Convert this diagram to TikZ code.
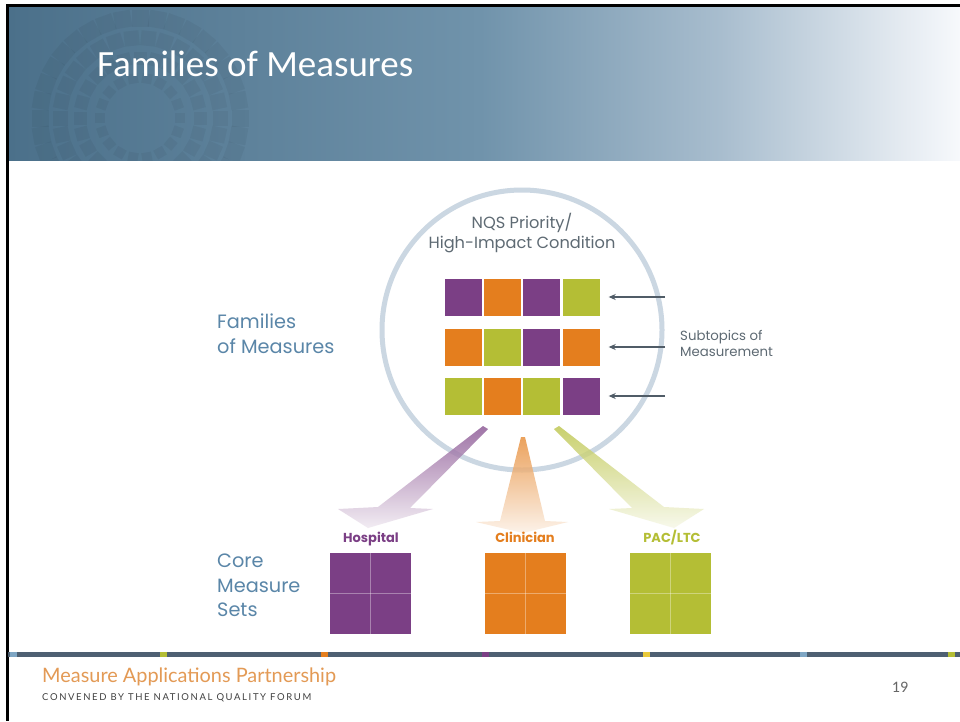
\documentclass[tikz,border=0pt]{standalone}
\usepackage{fontspec}
\setmainfont{Lato}
\newfontfamily\titlefont{Carlito}
\newfontfamily\gfont{Poppins}
\usetikzlibrary{arrows.meta}
\definecolor{mpurple}{HTML}{7B3F85}
\definecolor{morange}{HTML}{E47E1E}
\definecolor{mgreen}{HTML}{B4BE35}
\definecolor{steel}{HTML}{5A86A8}
\definecolor{txtgray}{HTML}{5E6A73}
\definecolor{ringc}{HTML}{CBD7E2}
\definecolor{arrowc}{HTML}{505C67}
\definecolor{footorange}{HTML}{E39A55}
\definecolor{barc}{HTML}{4E6072}
\definecolor{hA}{HTML}{4B708A}
\definecolor{hB}{HTML}{7093AB}
\definecolor{hC}{HTML}{A8BDCE}
\definecolor{hD}{HTML}{F7F9FC}
\definecolor{bitblue}{HTML}{7EA6C4}
\definecolor{bityellow}{HTML}{E8C93A}
\pgfdeclarehorizontalshading{hdr}{100bp}{color(0bp)=(hA); color(25bp)=(hA); color(49.8bp)=(hB); color(62.4bp)=(hC); color(75bp)=(hD); color(100bp)=(hD)}
\tikzset{
  cell/.style={minimum width=37pt, minimum height=37pt, inner sep=0pt, fill=#1},
  core/.style={minimum width=81pt, minimum height=81pt, inner sep=0pt, fill=#1},
  ptr/.style={arrowc, line width=1.1pt, -{Stealth[length=7pt,width=6pt]}},
  sidelbl/.style={steel, font=\gfont\fontsize{19.3}{24.5}\selectfont, align=left, anchor=north west, inner sep=0pt},
  setlbl/.style={font=\gfont\bfseries\fontsize{13}{15}\selectfont, inner sep=0pt, anchor=base},
  bigarrow/.style={shade, top color=#1!90, bottom color=#1!12, opacity=.8},
  divider/.style={white, opacity=.35, line width=.9pt}
}
\begin{document}
\begin{tikzpicture}[x=1pt, y=-1pt]
\useasboundingbox (0,0) rectangle (960,721);
\fill[white] (0,0) rectangle (960,721);
% header
\shade[shading=hdr] (8,6) rectangle (960,160);
\begin{scope}
  \clip (8,6) rectangle (330,160);
  \foreach \r/\s/\st in {40/10/20, 60/13/15, 80/15/12, 100/17/10}{
    \foreach \a in {0,\st,...,359}{
      \fill[black, opacity=.045, shift={(140,118)}, rotate=\a] (\r-\s/2,-\s/2) rectangle (\r+\s/2,\s/2);
    }
  }
\end{scope}
\node[white, anchor=base west, inner sep=0pt, font=\titlefont\fontsize{37}{40}\selectfont] (title) at (97,76) {Families of Measures};
% borders
\fill[black] (6,4) rectangle (960,7);
\fill[black] (6,4) rectangle (9,721);
% circle
\draw[ringc, line width=5pt] (522,330) circle (140);
\node[txtgray, align=center, inner sep=0pt, anchor=base, font=\gfont\fontsize{16.2}{20}\selectfont] (nqs) at (522,248) {NQS Priority/\\High-Impact Condition};
% grid of subtopics
\node[cell=mpurple] (r1c1) at (463,297) {};
\node[cell=morange] (r1c2) at (502,297) {};
\node[cell=mpurple] (r1c3) at (541,297) {};
\node[cell=mgreen]  (r1c4) at (581,297) {};
\node[cell=morange] (r2c1) at (463,347) {};
\node[cell=mgreen]  (r2c2) at (502,347) {};
\node[cell=mpurple] (r2c3) at (541,347) {};
\node[cell=morange] (r2c4) at (581,347) {};
\node[cell=mgreen]  (r3c1) at (463,396) {};
\node[cell=morange] (r3c2) at (502,396) {};
\node[cell=mgreen]  (r3c3) at (541,396) {};
\node[cell=mpurple] (r3c4) at (581,396) {};
% pointer arrows
\coordinate (s1) at (665,297);
\coordinate (s2) at (665,347);
\coordinate (s3) at (665,396);
\draw[ptr] (s1) -- ([xshift=9pt]r1c4.east);
\draw[ptr] (s2) -- ([xshift=9pt]r2c4.east);
\draw[ptr] (s3) -- ([xshift=9pt]r3c4.east);
\node[txtgray, align=left, anchor=north west, inner sep=0pt, font=\gfont\fontsize{13.3}{16}\selectfont] (sub) at (680,330) {Subtopics of\\Measurement};
% side labels
\node[sidelbl] (fam) at (217,314) {Families\\of Measures};
\node[sidelbl] (cms) at (217,554) {Core\\Measure\\Sets};
% big arrows
\path[bigarrow=mpurple] (483,426) -- (488,429) -- (410,508) -- (433,509) -- (368,528) -- (338,509) -- (378,507) -- cycle;
\path[bigarrow=morange] (521,437) -- (525,437) -- (545,521) -- (568,522) -- (523,533) -- (476,522) -- (500,521) -- cycle;
\path[bigarrow=mgreen] (559,426) -- (554,429) -- (632,508) -- (609,509) -- (674,528) -- (704,509) -- (664,507) -- cycle;
% set labels
\node[setlbl, mpurple] (hosp) at (371,542) {Hospital};
\node[setlbl, morange] (clin) at (525,542) {Clinician};
\node[setlbl, mgreen] (pac) at (672,542) {PAC/LTC};
% core measure sets
\node[core=mpurple] (chosp) at (370.5,593.5) {};
\node[core=morange] (cclin) at (525.5,593.5) {};
\node[core=mgreen] (cpac) at (670.5,593.5) {};
\foreach \c in {chosp,cclin,cpac}{
  \draw[divider] (\c.north) -- (\c.south);
  \draw[divider] (\c.west) -- (\c.east);
}
% footer bar
\fill[barc] (8,652) rectangle (960,657);
\foreach \x/\col in {10/bitblue,160/mgreen,321/morange,482/mpurple,643/bityellow,800/bitblue,948/mgreen}{
  \fill[\col] (\x,652) rectangle (\x+7,657);
}
\node[footorange, anchor=base west, inner sep=0pt, font=\fontsize{19.9}{20}\selectfont] (map) at (42,682) {Measure Applications Partnership};
\node[black!75, anchor=base west, inner sep=0pt, font=\fontsize{9.5}{10}\selectfont\addfontfeatures{LetterSpace=17}] (conv) at (42,700) {CONVENED BY THE NATIONAL QUALITY FORUM};
\node[black!60, anchor=base, inner sep=0pt, font=\titlefont\fontsize{16}{18}\selectfont] (pg) at (900,692) {19};
\end{tikzpicture}
\end{document}
